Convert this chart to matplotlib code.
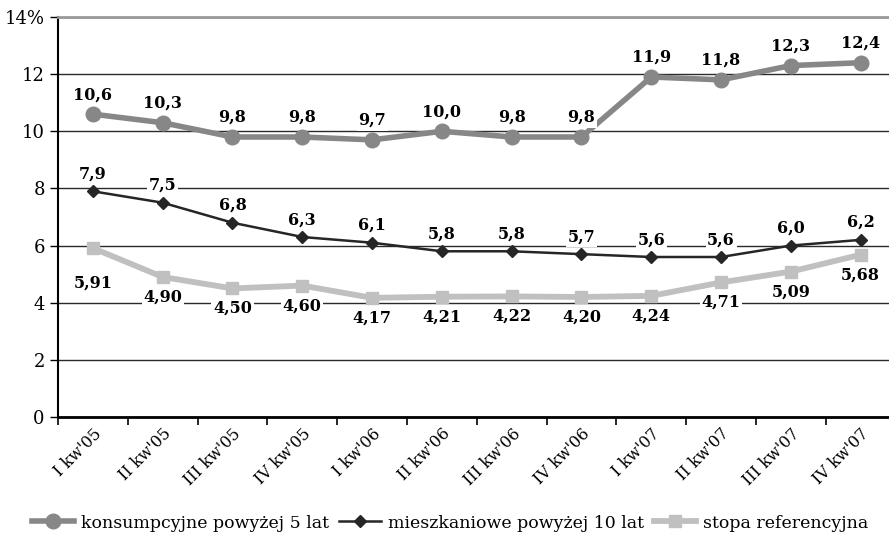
import matplotlib
matplotlib.use("Agg")
import matplotlib.pyplot as plt

plt.rcParams['font.family'] = ['DejaVu Serif']

quarters = ["I kw'05", "II kw'05", "III kw'05", "IV kw'05",
            "I kw'06", "II kw'06", "III kw'06", "IV kw'06",
            "I kw'07", "II kw'07", "III kw'07", "IV kw'07"]
konsumpcyjne = [10.6, 10.3, 9.8, 9.8, 9.7, 10.0, 9.8, 9.8, 11.9, 11.8, 12.3, 12.4]
mieszkaniowe = [7.9, 7.5, 6.8, 6.3, 6.1, 5.8, 5.8, 5.7, 5.6, 5.6, 6.0, 6.2]
referencyjna = [5.91, 4.90, 4.50, 4.60, 4.17, 4.21, 4.22, 4.20, 4.24, 4.71, 5.09, 5.68]
yticks = [0, 2, 4, 6, 8, 10, 12, 14]
ytick_labels = ["0", "2", "4", "6", "8", "10", "12", "14%"]

W, H = 889, 533
fig = plt.figure(figsize=(W / 100, H / 100), dpi=100)
step = 69.8
ax = fig.add_axes([58 / W, (H - 417) / H, 12 * step / W, 400 / H])

x = list(range(len(quarters)))

c_kons = "#878787"
c_mies = "#262626"
c_ref = "#c0c0c0"

ax.plot(x, referencyjna, color=c_ref, lw=4.2, marker="s", ms=8.5,
        label="stopa referencyjna", zorder=3)
ax.plot(x, mieszkaniowe, color=c_mies, lw=1.8, marker="D", ms=6.5,
        label="mieszkaniowe powyżej 10 lat", zorder=4)
ax.plot(x, konsumpcyjne, color=c_kons, lw=4, marker="o", ms=10.5,
        label="konsumpcyjne powyżej 5 lat", zorder=5)

def fmt(v, nd):
    return f"{v:.{nd}f}".replace(".", ",")

box = dict(boxstyle="square,pad=0.1", fc="white", ec="none")
lab_kw = dict(ha="center", va="center", fontsize=11.5, fontweight="bold",
              textcoords="offset points", bbox=box, zorder=6)

for i, v in enumerate(konsumpcyjne):
    ax.annotate(fmt(v, 1), (i, v), xytext=(0, 14), **lab_kw)
for i, v in enumerate(mieszkaniowe):
    ax.annotate(fmt(v, 1), (i, v), xytext=(0, 12.5), **lab_kw)
for i, v in enumerate(referencyjna):
    dy = -25 if i == 0 else -14.5
    ax.annotate(fmt(v, 2), (i, v), xytext=(0, dy), **lab_kw)

ax.set_xlim(-0.5, len(quarters) - 0.5)
ax.set_ylim(0, 14)
ax.set_yticks(yticks)
ax.set_yticklabels(ytick_labels, fontsize=13)
ax.yaxis.grid(True, color="#2a2a2a", lw=1)
ax.set_axisbelow(True)

ax.set_xticks([i + 0.5 for i in range(-1, len(quarters))], minor=False)
ax.set_xticklabels([])
ax.set_xticks(x, minor=True)
ax.set_xticklabels(quarters, minor=True, rotation=45, ha="right",
                   rotation_mode="anchor", fontsize=11.5)
ax.tick_params(axis="x", which="minor", length=0, pad=6)
ax.tick_params(axis="x", which="major", length=6, width=1.2, direction="out")
ax.tick_params(axis="y", length=6, width=1, direction="out")

ax.spines["right"].set_visible(False)
ax.spines["top"].set_color("#999999")
ax.spines["top"].set_linewidth(2)
ax.spines["left"].set_linewidth(1.5)
ax.spines["bottom"].set_linewidth(2)

handles, labels = ax.get_legend_handles_labels()
order = [2, 1, 0]
fig.legend([handles[k] for k in order], [labels[k] for k in order],
           loc="center left", bbox_to_anchor=(32 / W, (H - 523) / H),
           ncol=3, frameon=False, fontsize=12.5, handlelength=2.4,
           handletextpad=0.4, columnspacing=0.6, borderaxespad=0,
           borderpad=0)

fig.savefig("out.png", dpi=100)
